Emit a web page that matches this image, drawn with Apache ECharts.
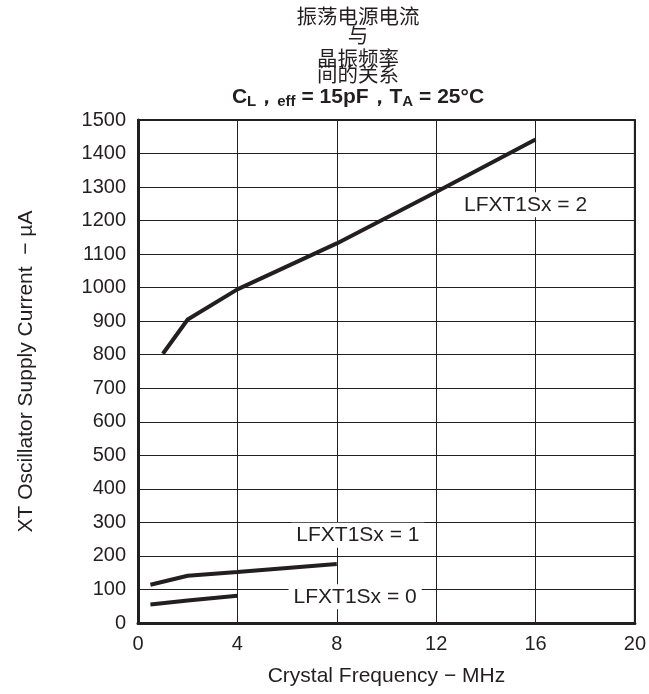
<!DOCTYPE html>
<html>
<head>
<meta charset="utf-8">
<script src="https://cdn.jsdelivr.net/npm/echarts@6/dist/echarts.min.js"></script>
<style>html,body{margin:0;padding:0;background:#fff}#c{width:649px;height:694px}</style>
</head>
<body>
<div id="c"></div>
<script>
var xTicks = [0, 4, 8, 12, 16, 20];
var yTicks = [0,100,200,300,400,500,600,700,800,900,1000,1100,1200,1300,1400,1500];
var freq2 = [1, 2, 4, 8, 12, 16];
var cur2  = [803, 905, 995, 1132, 1285, 1442];
var freq1 = [0.5, 2, 4, 8];
var cur1  = [114, 141, 152, 176];
var freq0 = [0.5, 2, 4];
var cur0  = [55, 67, 81];
var seriesNames = ['LFXT1Sx = 2', 'LFXT1Sx = 1', 'LFXT1Sx = 0'];
var labelPos = [[15.6, 1247], [8.85, 262], [8.74, 78]];
var titleLines = ['振荡电源电流', '与', '晶振频率', '间的关系'];
var xName = 'Crystal Frequency − MHz';
var yName = 'XT Oscillator Supply Current  − µA';

var ink = '#231f20';
var fontLat = '"Liberation Sans", Arial, sans-serif';
var fontCJK = '"Noto Sans CJK SC", sans-serif';

function pairs(xs, ys) { return xs.map(function (x, i) { return [x, ys[i]]; }); }

function mkSeries(name, data, lp) {
  return {
    name: name, type: 'line', data: data, symbol: 'none',
    lineStyle: { color: ink, width: 4 }, z: 5,
    markPoint: {
      symbol: 'rect', symbolSize: 0, silent: true,
      data: [{ coord: lp }],
      label: {
        show: true, position: 'inside', formatter: name,
        fontFamily: fontLat, fontSize: 21, color: ink,
        backgroundColor: '#fff', padding: [2, 5]
      }
    }
  };
}

var titleY = [16, 35, 58, 74];
var graphics = titleLines.map(function (t, i) {
  return {
    type: 'text',
    style: { text: t, font: '20.5px ' + fontCJK, fill: ink, textAlign: 'center', textVerticalAlign: 'middle', x: 358, y: titleY[i] }
  };
});
graphics.push({
  type: 'text',
  style: {
    x: 358, y: 97, textAlign: 'center', textVerticalAlign: 'middle',
    text: '{b|C}{s|L}{b|，}{s|eff}{b| = 15pF，T}{s|A}{b| = 25°C}',
    rich: {
      b: { fontFamily: fontLat, fontWeight: 'bold', fontSize: 21, fill: ink, color: ink },
      s: { fontFamily: fontLat, fontWeight: 'bold', fontSize: 15, fill: ink, color: ink, padding: [9, 0, 0, 0] }
    }
  }
});

var chart = echarts.init(document.getElementById('c'), null, { renderer: 'canvas' });
chart.setOption({
  animation: false,
  backgroundColor: '#fff',
  grid: { left: 138, right: 11, top: 120, bottom: 71, show: true, borderColor: ink, borderWidth: 2 },
  graphic: graphics,
  xAxis: {
    type: 'value', min: xTicks[0], max: xTicks[xTicks.length - 1], interval: 4,
    name: xName, nameLocation: 'middle', nameGap: 43,
    nameTextStyle: { fontFamily: fontLat, fontSize: 21, color: ink },
    axisLine: { show: true, lineStyle: { color: ink, width: 3 } },
    axisTick: { show: false },
    axisLabel: { fontFamily: fontLat, fontSize: 20, color: ink, margin: 11 },
    splitLine: { show: true, lineStyle: { color: ink, width: 1 } }
  },
  yAxis: {
    type: 'value', min: yTicks[0], max: yTicks[yTicks.length - 1], interval: 100,
    name: yName, nameLocation: 'middle', nameGap: 101,
    nameTextStyle: { fontFamily: fontLat, fontSize: 21, color: ink },
    axisLine: { show: true, lineStyle: { color: ink, width: 3 } },
    axisTick: { show: false },
    axisLabel: { fontFamily: fontLat, fontSize: 20, color: ink, margin: 12, formatter: function (v) { return String(v); } },
    splitLine: { show: true, lineStyle: { color: ink, width: 1 } }
  },
  series: [
    mkSeries(seriesNames[0], pairs(freq2, cur2), labelPos[0]),
    mkSeries(seriesNames[1], pairs(freq1, cur1), labelPos[1]),
    mkSeries(seriesNames[2], pairs(freq0, cur0), labelPos[2])
  ]
});
</script>
</body>
</html>
